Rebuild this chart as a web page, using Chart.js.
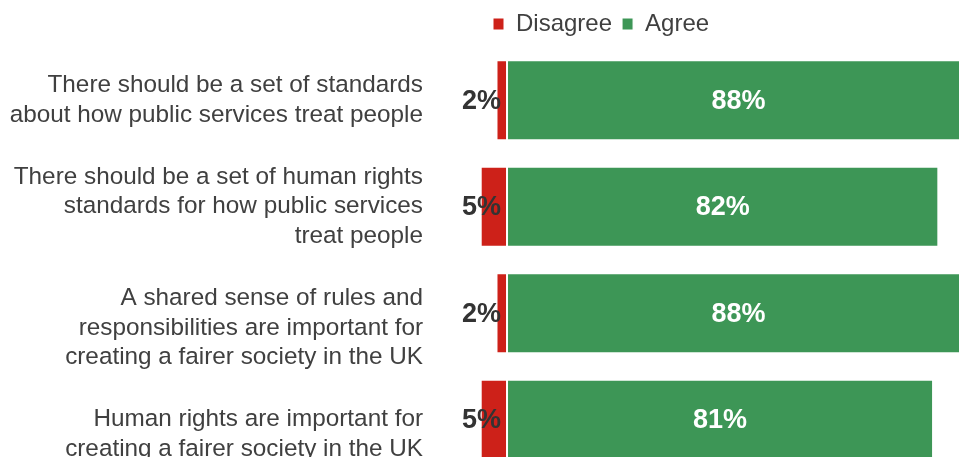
<!DOCTYPE html>
<html>
<head>
<meta charset="utf-8">
<script src="https://cdn.jsdelivr.net/npm/chart.js@4/dist/chart.umd.min.js"></script>
<style>
  html, body { margin: 0; padding: 0; background: #fff; overflow: hidden; }
  #wrap { width: 959px; height: 457px; overflow: hidden; }
</style>
</head>
<body>
<div id="wrap"><canvas id="attitudes_chart" width="959" height="473"></canvas></div>
<script>
const statements = [
    ["There should be a set of standards", "about how public services treat people"],
    ["There should be a set of human rights", "standards for how public services", "treat people"],
    ["", "A shared sense of rules and", "responsibilities are important for", "creating a fairer society in the UK"],
    ["", "Human rights are important for", "creating a fairer society in the UK"]
];
const disagree = [2, 5, 2, 5];
const agree = [88, 82, 88, 81];

const RED = "#cd2119";
const GREEN = "#3d9656";
const TEXT = "#404040";
const FONT = "'Liberation Sans', Arial, sans-serif";

// value labels: agree centred in white, disagree right-aligned just left of zero
const valueLabels = {
    id: "valueLabels",
    afterDatasetsDraw(chart) {
        const ctx = chart.ctx;
        ctx.save();
        ctx.font = "bold 27px " + FONT;
        ctx.textBaseline = "middle";
        chart.data.datasets.forEach((ds, di) => {
            const meta = chart.getDatasetMeta(di);
            meta.data.forEach((bar, i) => {
                const v = Math.abs(ds.data[i]);
                if (di === 0) {
                    ctx.fillStyle = "#333333";
                    ctx.textAlign = "right";
                    ctx.fillText(v + "%", bar.base - 6, bar.y + 1);
                } else {
                    ctx.fillStyle = "#ffffff";
                    ctx.textAlign = "center";
                    ctx.fillText(v + "%", (bar.x + bar.base) / 2, bar.y + 1);
                }
            });
        });
        ctx.restore();
    }
};

// nudge the legend so it sits above the bars rather than at the far left
const legendOffset = {
    id: "legendOffset",
    afterLayout(chart) {
        chart.legend.left = 483;
        chart.legend.top = 2;
    }
};

new Chart(document.getElementById("attitudes_chart"), {
    type: "bar",
    data: {
        labels: statements,
        datasets: [
            {
                label: "Disagree",
                data: disagree.map((v) => -v),
                backgroundColor: RED,
                borderColor: "#ffffff",
                borderWidth: 1,
                borderSkipped: false,
                barPercentage: 0.75,
                categoryPercentage: 1
            },
            {
                label: "Agree",
                data: agree,
                backgroundColor: GREEN,
                borderColor: "#ffffff",
                borderWidth: 1,
                borderSkipped: false,
                barPercentage: 0.75,
                categoryPercentage: 1
            }
        ]
    },
    options: {
        indexAxis: "y",
        responsive: false,
        animation: false,
        layout: { padding: { top: 3, left: 0, right: 0, bottom: 0 } },
        plugins: {
            legend: {
                position: "top",
                align: "start",
                labels: {
                    color: TEXT,
                    font: { family: FONT, size: 24 },
                    boxWidth: 11,
                    boxHeight: 12,
                    padding: 10
                }
            },
            tooltip: { enabled: false }
        },
        scales: {
            x: {
                type: "linear",
                stacked: true,
                display: false,
                min: -12.74,
                max: 85.93
            },
            y: {
                stacked: true,
                grid: { display: false, drawTicks: false },
                border: { display: false },
                ticks: {
                    autoSkip: false,
                    color: TEXT,
                    padding: 17,
                    font: { family: FONT, size: 24.3, lineHeight: 1.21 }
                },
                afterFit(scale) {
                    scale.width = 440;
                    scale.paddingTop = 0;
                    scale.paddingBottom = 0;
                }
            }
        }
    },
    plugins: [valueLabels, legendOffset]
});
</script>
</body>
</html>
